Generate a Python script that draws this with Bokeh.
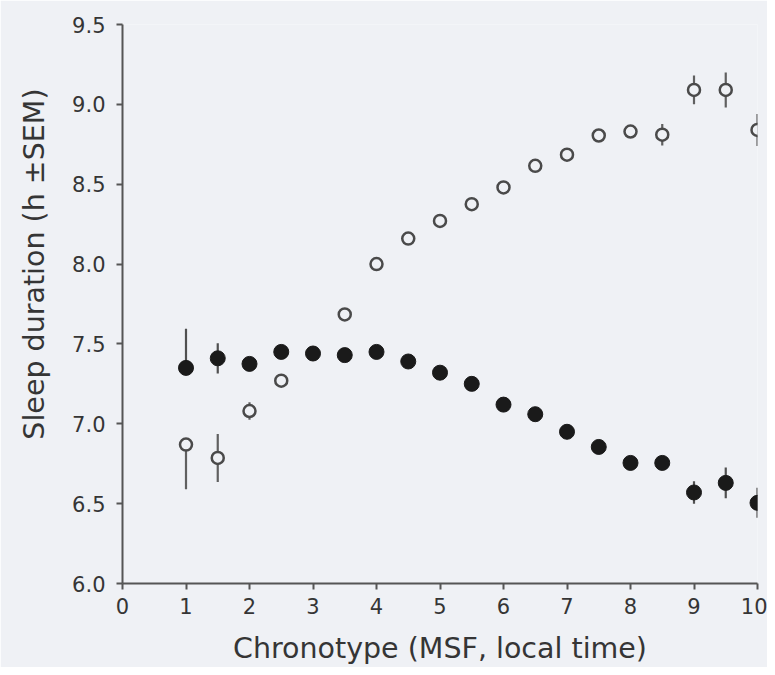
import numpy as np
from bokeh.plotting import figure
from bokeh.models import ColumnDataSource, FixedTicker, Range1d, Title
from bokeh.embed import file_html
from bokeh.resources import INLINE

# Chronotype (MSF, local time)
chronotype = [1, 1.5, 2, 2.5, 3, 3.5, 4, 4.5, 5, 5.5, 6, 6.5, 7, 7.5, 8, 8.5, 9, 9.5, 10]

# filled circles: sleep duration (h)
filled_mean = [7.35, 7.41, 7.375, 7.45, 7.44, 7.43, 7.45, 7.39, 7.32, 7.25, 7.12, 7.06,
               6.95, 6.855, 6.755, 6.755, 6.57, 6.63, 6.505]
filled_sem_up = [0.245, 0.095, 0.04, 0.03, 0.03, 0.03, 0.03, 0.03, 0.03, 0.03, 0.03, 0.03,
                 0.03, 0.03, 0.03, 0.04, 0.07, 0.096, 0.094]
filled_sem_down = [0.0, 0.095, 0.04, 0.03, 0.03, 0.03, 0.03, 0.03, 0.03, 0.03, 0.03, 0.03,
                   0.03, 0.03, 0.03, 0.04, 0.07, 0.096, 0.094]

# open circles: sleep duration (h)
open_mean = [6.87, 6.786, 7.08, 7.27, 7.44, 7.685, 8.00, 8.16, 8.27, 8.375, 8.48, 8.615,
             8.685, 8.805, 8.83, 8.81, 9.09, 9.09, 8.84]
open_sem_up = [0.0, 0.15, 0.055, 0.03, 0.03, 0.03, 0.03, 0.03, 0.03, 0.03, 0.03, 0.03,
               0.03, 0.03, 0.03, 0.067, 0.09, 0.11, 0.10]
open_sem_down = [0.28, 0.15, 0.055, 0.03, 0.03, 0.03, 0.03, 0.03, 0.03, 0.03, 0.03, 0.03,
                 0.03, 0.03, 0.03, 0.067, 0.09, 0.11, 0.10]

x_ticks = [0, 1, 2, 3, 4, 5, 6, 7, 8, 9, 10]
y_ticks = [6.0, 6.5, 7.0, 7.5, 8.0, 8.5, 9.0, 9.5]
y_tick_labels = ["6.0", "6.5", "7.0", "7.5", "8.0", "8.5", "9.0", "9.5"]

BG = "#eff1f5"
AXC = "#555555"
TXT = "#353535"

p = figure(width=767, height=667, output_backend="svg", toolbar_location=None,
           x_range=Range1d(0, 10), y_range=Range1d(6.0, 9.5),
           min_border_left=122, min_border_right=10, min_border_top=24, min_border_bottom=83,
           background_fill_color=BG, border_fill_color=BG, outline_line_color=None)
p.grid.visible = False

x = np.array(chronotype)
fm = np.array(filled_mean)
om = np.array(open_mean)

src_f = ColumnDataSource(dict(x=x, y=fm, top=fm + np.array(filled_sem_up), bot=fm - np.array(filled_sem_down)))
src_o = ColumnDataSource(dict(x=x, y=om, top=om + np.array(open_sem_up), bot=om - np.array(open_sem_down)))

p.segment(x0="x", y0="bot", x1="x", y1="top", source=src_o, line_color="#606060", line_width=2.2)
p.scatter(x="x", y="y", source=src_o, size=12, marker="circle", fill_color=BG,
          line_color="#4a4a4a", line_width=2.5)
p.segment(x0="x", y0="bot", x1="x", y1="top", source=src_f, line_color="#505050", line_width=2.2)
p.scatter(x="x", y="y", source=src_f, size=15, marker="circle", fill_color="#1a1a1a",
          line_color="#1a1a1a", line_width=1)

for ax in (p.xaxis[0], p.yaxis[0]):
    ax.axis_line_color = AXC
    ax.axis_line_width = 2
    ax.major_tick_line_color = AXC
    ax.major_tick_line_width = 2
    ax.major_tick_out = 6
    ax.major_tick_in = 0
    ax.minor_tick_line_color = None
    ax.major_label_text_font = "DejaVu Sans"
    ax.major_label_text_font_size = "21px"
    ax.major_label_text_color = TXT
    ax.axis_label_text_font = "DejaVu Sans"
    ax.axis_label_text_font_size = "28.5px"
    ax.axis_label_text_font_style = "normal"
    ax.axis_label_text_color = TXT

p.xaxis.ticker = FixedTicker(ticks=x_ticks)
p.yaxis.ticker = FixedTicker(ticks=y_ticks)
p.yaxis.major_label_overrides = {t: l for t, l in zip(y_ticks, y_tick_labels)}
p.xaxis.major_label_standoff = 8
p.yaxis.major_label_standoff = 11
p.xaxis.axis_label = "Chronotype (MSF, local time)"
p.xaxis.axis_label_standoff = 15

ytitle = Title(text="Sleep duration (h ±SEM)", align="right", offset=64, standoff=33,
               vertical_align="top",
               text_font="DejaVu Sans", text_font_size="28.5px", text_font_style="normal",
               text_color=TXT)
p.add_layout(ytitle, "left")

open("out.html", "w").write(file_html(p, INLINE))
